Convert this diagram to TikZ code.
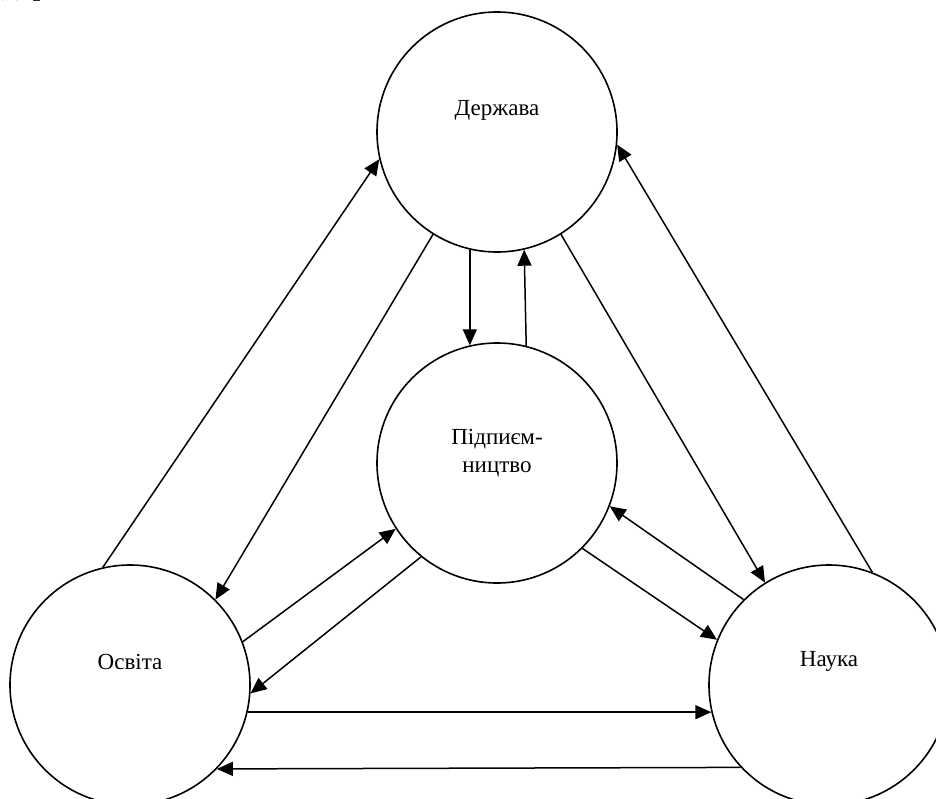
\documentclass[tikz,border=0pt]{standalone}
\usepackage{fontspec}
\setmainfont{Liberation Serif}
\usetikzlibrary{arrows.meta}
\begin{document}
\begin{tikzpicture}[x=1pt,y=-1pt,
  circ/.style={circle,draw,line width=1.6pt,minimum size=240pt,inner sep=0pt},
  lbl/.style={font=\fontsize{23}{28}\selectfont,align=center},
  conn/.style={line width=1.5pt,-{Triangle[length=16pt,width=14pt]}}]
\useasboundingbox (0,0) rectangle (936,798);
\clip (0,0) rectangle (936,798);
\node[anchor=base west,font=\fontsize{32}{38}\selectfont,inner sep=0pt] (hdr) at (2,-6) {держави.};
\node[circ,label={[lbl,yshift=22pt]center:Держава}] (D) at (497,132) {};
\node[circ,label={[lbl,yshift=10pt]center:Підпиєм-\\ництво}] (P) at (497,463) {};
\node[circ,label={[lbl,yshift=23pt]center:Освіта}] (O) at (130,685) {};
\node[circ,label={[lbl,yshift=24pt]center:Наука}] (N) at (829,685) {};
% Osvita <-> Derzhava
\draw[conn] (O.103) -- (D.193);
\draw[conn] (D.238) -- (O.45);
% Derzhava <-> Pidpryiemnytstvo
\draw[conn] (D.257) -- (P.103);
\draw[conn] (P.76.5) -- (D.283.5);
% Derzhava <-> Nauka
\draw[conn] (D.302.6) -- (N.122.9);
\draw[conn] (N.69) -- (D.354.8);
% Nauka <-> Pidpryiemnytstvo
\draw[conn] (N.135) -- (P.339);
\draw[conn] (P.315) -- (N.158);
% Osvita <-> Pidpryiemnytstvo
\draw[conn] (O.21.7) -- (P.213.4);
\draw[conn] (P.231) -- (O.356);
% Osvita <-> Nauka
\draw[conn] (O.347) -- (N.193);
\draw[conn] (N.223.8) -- (O.316.2);
\end{tikzpicture}
\end{document}
